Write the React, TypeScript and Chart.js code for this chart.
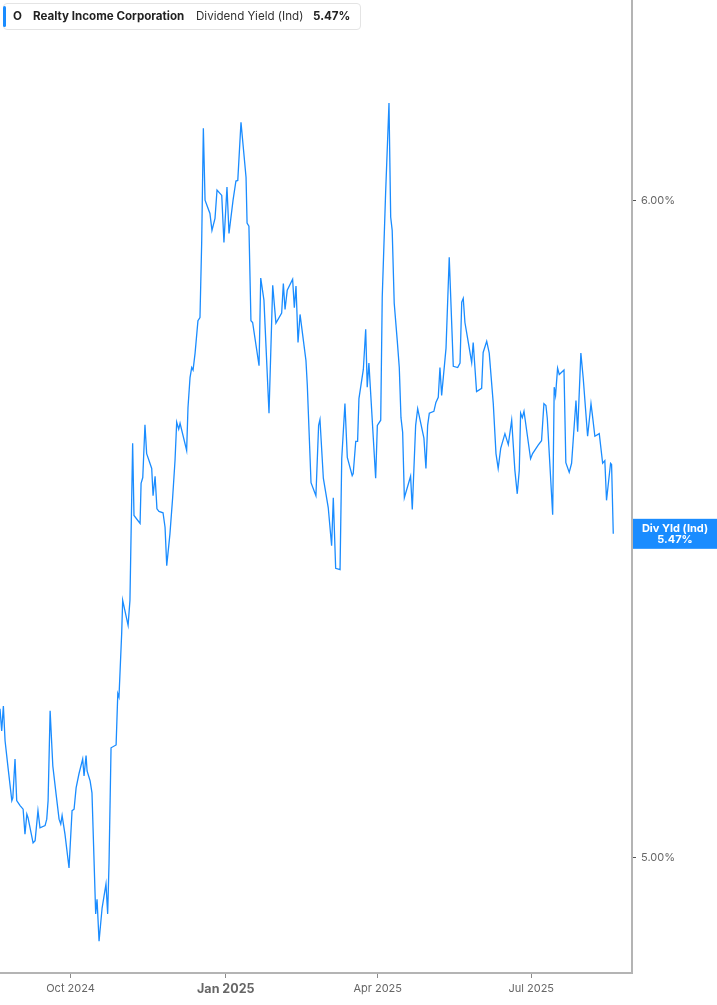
import React, { useEffect, useRef } from "react";
import { Chart, registerables } from "chart.js";

Chart.register(...registerables);

// days since 2024-10-01
const dayOffsets = [
  -41.8, -40.8, -39.8, -38.8, -37.0, -34.8, -34.2, -32.9, -31.9, -29.9,
  -28.1, -27.0, -25.9, -25.2, -22.2, -21.0, -19.3, -18.1, -15.1, -14.1,
  -13.3, -12.1, -10.5, -8.6, -6.8, -5.8, -5.0, -3.3, -0.9, 0.9,
  2.1, 3.3, 5.0, 7.2, 8.0, 9.2, 9.8, 11.6, 12.7, 14.9,
  15.7, 16.9, 18.7, 21.0, 22.0, 22.8, 24.0, 27.0, 28.0, 28.7,
  30.3, 30.9, 34.1, 35.2, 36.8, 37.6, 41.2, 41.8, 42.8, 44.1,
  45.1, 48.1, 48.9, 50.1, 51.2, 52.4, 54.8, 56.0, 57.0, 58.9,
  60.5, 61.9, 62.9, 64.1, 64.9, 68.8, 69.6, 70.8, 71.8, 72.6,
  73.8, 75.5, 76.7, 77.7, 78.7, 79.7, 82.6, 83.8, 85.6, 86.8,
  89.6, 90.9, 92.7, 93.9, 96.3, 98.0, 99.1, 101.0, 104.0, 104.6,
  105.7, 106.9, 107.9, 111.7, 112.7, 114.6, 117.6, 119.8, 121.7, 125.1,
  126.1, 127.1, 128.4, 131.6, 132.6, 133.6, 134.8, 136.0, 139.5, 140.3,
  142.5, 145.4, 147.0, 147.8, 149.8, 152.7, 154.7, 155.7, 157.1, 159.7,
  160.7, 162.6, 164.0, 166.9, 167.5, 169.0, 170.1, 170.9, 173.5, 174.9,
  175.8, 176.8, 180.8, 181.8, 183.8, 184.7, 186.7, 188.7, 189.7, 190.6,
  191.8, 193.6, 194.8, 195.8, 196.8, 197.8, 201.5, 202.5, 204.5, 205.7,
  209.4, 210.6, 211.6, 212.6, 215.3, 216.5, 217.9, 218.9, 219.9, 222.5,
  224.4, 226.8, 229.4, 230.8, 231.8, 232.7, 233.7, 235.7, 237.7, 238.6,
  240.6, 243.6, 244.5, 246.6, 248.1, 250.5, 252.1, 253.4, 254.9, 257.4,
  259.4, 261.4, 263.3, 264.7, 265.9, 266.7, 267.7, 268.7, 272.6, 273.8,
  277.1, 279.1, 280.5, 281.7, 282.5, 285.7, 286.6, 287.4, 288.6, 289.6,
  292.4, 293.5, 295.5, 296.9, 299.5, 300.5, 302.4, 303.8, 306.4, 308.4,
  309.1, 310.7, 313.3, 315.3, 316.6, 317.6, 320.0, 320.6, 321.6,
];

// dividend yield (%)
const yields = [
  5.211, 5.179, 5.215, 5.165, 5.126, 5.080, 5.084, 5.139, 5.080, 5.073,
  5.068, 5.033, 5.061, 5.056, 5.021, 5.024, 5.066, 5.042, 5.045, 5.054,
  5.080, 5.208, 5.129, 5.090, 5.054, 5.047, 5.059, 5.033, 4.986, 5.066,
  5.068, 5.098, 5.118, 5.139, 5.115, 5.144, 5.122, 5.108, 5.091, 4.923,
  4.943, 4.886, 4.931, 4.964, 4.923, 4.992, 5.155, 5.159, 5.233, 5.228,
  5.321, 5.370, 5.333, 5.370, 5.609, 5.498, 5.486, 5.547, 5.556, 5.638,
  5.593, 5.570, 5.528, 5.558, 5.508, 5.504, 5.502, 5.480, 5.422, 5.470,
  5.525, 5.582, 5.642, 5.631, 5.640, 5.598, 5.665, 5.712, 5.728, 5.724,
  5.751, 5.803, 5.808, 5.929, 6.121, 6.000, 5.978, 5.950, 5.970, 6.017,
  6.008, 5.930, 6.022, 5.945, 6.000, 6.032, 6.033, 6.131, 6.038, 5.962,
  5.957, 5.803, 5.800, 5.731, 5.872, 5.836, 5.656, 5.860, 5.799, 5.815,
  5.863, 5.821, 5.852, 5.870, 5.824, 5.859, 5.768, 5.813, 5.739, 5.700,
  5.548, 5.528, 5.637, 5.646, 5.555, 5.510, 5.452, 5.525, 5.418, 5.416,
  5.585, 5.671, 5.587, 5.559, 5.562, 5.612, 5.612, 5.679, 5.725, 5.789,
  5.697, 5.735, 5.555, 5.637, 5.645, 5.841, 6.012, 6.164, 5.972, 5.950,
  5.831, 5.771, 5.728, 5.649, 5.626, 5.525, 5.558, 5.507, 5.637, 5.663,
  5.617, 5.570, 5.637, 5.656, 5.659, 5.673, 5.681, 5.728, 5.684, 5.759,
  5.906, 5.730, 5.728, 5.735, 5.833, 5.839, 5.800, 5.768, 5.736, 5.768,
  5.690, 5.695, 5.752, 5.770, 5.751, 5.671, 5.593, 5.570, 5.601, 5.624,
  5.607, 5.645, 5.567, 5.531, 5.567, 5.656, 5.649, 5.659, 5.585, 5.593,
  5.606, 5.613, 5.671, 5.668, 5.648, 5.499, 5.697, 5.684, 5.727, 5.717,
  5.724, 5.579, 5.564, 5.578, 5.676, 5.627, 5.751, 5.711, 5.620, 5.671,
  5.656, 5.620, 5.624, 5.578, 5.582, 5.521, 5.578, 5.576, 5.470,
];

const tickDays = [0, 92, 182, 273];
const tickLabels = ["Oct 2024", "Jan 2025", "Apr 2025", "Jul 2025"];
const yearStartTick = 92;
const yTicks = [5, 6];
const xMax = 332.7;
const yMin = 4.843;
const yMax = 6.3424;

const ticker = "O";
const company = "Realty Income Corporation";
const metric = "Dividend Yield (Ind)";
const lastLabel = "Div Yld (Ind)";

const BLUE = "#1a8cff";
const FONT = "Inter, 'Noto Sans', sans-serif";

export default function App() {
  const ref = useRef<HTMLCanvasElement>(null);

  useEffect(() => {
    const canvas = ref.current;
    if (!canvas) return;
    const lastPlugin = {
      id: "lastValueLabel",
      afterDraw(chart: any) {
        const { ctx } = chart;
        const ys = chart.scales.y;
        const v = yields[yields.length - 1];
        const py = ys.getPixelForValue(v);
        const left = chart.chartArea.right + 1;
        const right = chart.width;
        ctx.save();
        ctx.fillStyle = BLUE;
        ctx.fillRect(left, py - 15, right - left, 30);
        ctx.fillStyle = "#ffffff";
        ctx.font = `bold 11px ${FONT}`;
        ctx.textAlign = "center";
        ctx.textBaseline = "middle";
        const cx = (left + right) / 2;
        ctx.fillText(lastLabel, cx, py - 5.5);
        ctx.fillText(v.toFixed(2) + "%", cx, py + 6);
        ctx.restore();
      },
    };

    const chart = new Chart(canvas, {
      type: "line",
      data: {
        datasets: [
          {
            data: dayOffsets.map((d, i) => ({ x: d, y: yields[i] })),
            borderColor: BLUE,
            borderWidth: 1.3,
            pointRadius: 0,
            tension: 0,
            fill: false,
          },
        ],
      },
      options: {
        animation: false,
        responsive: false,
        maintainAspectRatio: false,
        layout: { padding: 0 },
        plugins: {
          legend: { display: false },
          tooltip: { enabled: false },
        },
        scales: {
          x: {
            type: "linear",
            position: "bottom",
            bounds: "data",
            min: dayOffsets[0],
            max: xMax,
            afterBuildTicks: (s: any) => {
              s.ticks = tickDays.map((v) => ({ value: v }));
            },
            afterFit: (s: any) => {
              s.height = 32;
              s.paddingLeft = 0;
              s.paddingRight = 0;
            },
            ticks: {
              autoSkip: false,
              maxRotation: 0,
              padding: 4,
              color: "#666666",
              callback: (v: any) => {
                const i = tickDays.indexOf(Number(v));
                return i >= 0 ? tickLabels[i] : "";
              },
              font: (c: any) =>
                c.tick && c.tick.value === yearStartTick
                  ? { family: FONT, size: 12.5, weight: "bold" }
                  : { family: FONT, size: 11 },
            },
            grid: {
              display: true,
              drawOnChartArea: false,
              drawTicks: true,
              tickLength: 5,
              color: "#8a8a8a",
            },
            border: { display: true, color: "#b4b4b4", width: 2 },
          },
          y: {
            type: "logarithmic",
            position: "right",
            bounds: "data",
            min: yMin,
            max: yMax,
            afterBuildTicks: (s: any) => {
              s.min = yMin;
              s.max = yMax;
              s.ticks = yTicks.map((v) => ({ value: v }));
            },
            afterFit: (s: any) => {
              s.width = 85;
              s.paddingTop = 0;
              s.paddingBottom = 0;
            },
            ticks: {
              padding: 5,
              color: "#666666",
              font: { family: FONT, size: 11 },
              callback: (v: any) => Number(v).toFixed(2) + "%",
            },
            grid: {
              display: true,
              drawOnChartArea: false,
              drawTicks: true,
              tickLength: 4,
              color: "#555555",
            },
            border: { display: true, color: "#b4b4b4", width: 2 },
          },
        },
      },
      plugins: [lastPlugin],
    } as any);

    return () => chart.destroy();
  }, []);

  return (
    <div style={{ position: "absolute", left: 0, top: 0, width: 717, height: 1005, background: "#fff" }}>
      <canvas ref={ref} width={717} height={1005} style={{ display: "block", width: 717, height: 1005 }} />
      <div
        style={{
          position: "absolute",
          left: 3,
          top: 3,
          width: 358,
          height: 27,
          border: "1px solid #e4e4e4",
          borderRadius: 4,
          background: "#fff",
          boxSizing: "border-box",
          fontFamily: FONT,
          fontSize: 11.6,
          lineHeight: "14px",
          color: "#222",
          whiteSpace: "nowrap",
        }}
      >
        <div style={{ position: "absolute", left: -1, top: 2, bottom: 2, width: 3, background: BLUE, borderRadius: 2 }} />
        <span style={{ position: "absolute", left: 9, top: 5, fontWeight: 700 }}>{ticker}</span>
        <span style={{ position: "absolute", left: 29, top: 5, fontWeight: 700 }}>{company}</span>
        <span style={{ position: "absolute", left: 192, top: 5, fontWeight: 400, color: "#333" }}>{metric}</span>
        <span style={{ position: "absolute", left: 309, top: 5, fontWeight: 700 }}>
          {yields[yields.length - 1].toFixed(2) + "%"}
        </span>
      </div>
    </div>
  );
}
